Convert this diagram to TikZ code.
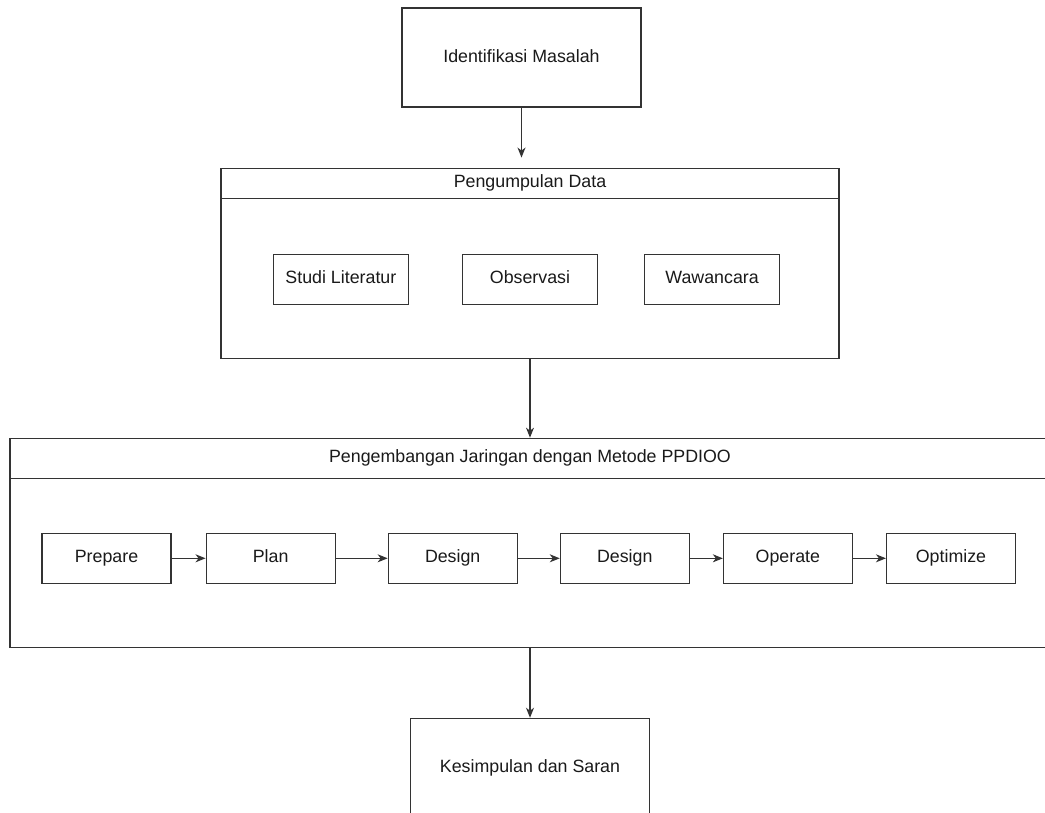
\documentclass[tikz,border=0pt]{standalone}
\usepackage{fontspec}
\setmainfont{Liberation Sans}
\usepackage{tikz}
\usetikzlibrary{arrows.meta,positioning}
\definecolor{flowInk}{HTML}{1A1A1A}
\definecolor{flowLine}{HTML}{333333}
\tikzset{
  flowBox/.style={
    draw=flowLine,
    line width=1.1pt,
    fill=white,
    align=center,
    text=flowInk,
    font=\fontsize{17.8}{21}\selectfont,
    text height=12.8pt,
    text depth=3.8pt,
    inner sep=0pt,
    minimum width=129pt,
    minimum height=50pt
  },
  flowBig/.style={
    flowBox,
    minimum width=239pt,
    minimum height=99pt
  },
  flowGroup/.style={
    draw=flowLine,
    line width=1.1pt,
    inner sep=0pt
  },
  flowHead/.style={
    flowBox,
    anchor=north
  },
  flowArrow/.style={
    -{Stealth[length=10pt,width=8pt,inset=3pt]},
    line width=1.1pt,
    draw=flowLine
  }
}

\begin{document}
\begin{tikzpicture}[node distance=33pt and 33pt]
  \useasboundingbox (0,0) rectangle (1045pt,-812pt);
  \node[flowBig] (idm) at (521.5pt,-57.5pt) {Identifikasi Masalah};

  \node[flowGroup, below=60pt of idm, xshift=8.5pt, minimum width=618pt, minimum height=190pt] (pdBox) {};
  \node[flowHead, minimum width=618pt, minimum height=30pt] (pdHead) at (pdBox.north) {Pengumpulan Data};
  \node[flowBox, below=55pt of pdHead, minimum width=135pt] (obs) {Observasi};
  \node[flowBox, left=53pt of obs, minimum width=135pt] (studi) {Studi Literatur};
  \node[flowBox, right=46pt of obs, minimum width=135pt] (wawan) {Wawancara};

  \node[flowGroup, below=79pt of pdBox, minimum width=1040pt, minimum height=209pt] (ppBox) {};
  \node[flowHead, minimum width=1040pt, minimum height=40pt] (ppHead) at (ppBox.north) {Pengembangan Jaringan dengan Metode PPDIOO};
  \node[flowBox, below right=54pt and 32pt of ppHead.south west] (prepare) {Prepare};
  \node[flowBox, right=34pt of prepare] (plan) {Plan};
  \node[flowBox, right=52pt of plan] (design) {Design};
  \node[flowBox, right=42pt of design] (designTwo) {Design};
  \node[flowBox, right=of designTwo] (operate) {Operate};
  \node[flowBox, right=of operate] (optimize) {Optimize};

  \node[flowBig, below=70pt of ppBox] (kes) {Kesimpulan dan Saran};

  \coordinate[above=10pt of pdBox.north, xshift=-8.5pt] (pdIn);

  \draw[flowArrow] (idm) -- (pdIn);
  \draw[flowArrow] (pdBox) -- (ppBox);
  \draw[flowArrow] (prepare) -- (plan);
  \draw[flowArrow] (plan) -- (design);
  \draw[flowArrow] (design) -- (designTwo);
  \draw[flowArrow] (designTwo) -- (operate);
  \draw[flowArrow] (operate) -- (optimize);
  \draw[flowArrow] (ppBox) -- (kes);
\end{tikzpicture}
\end{document}
